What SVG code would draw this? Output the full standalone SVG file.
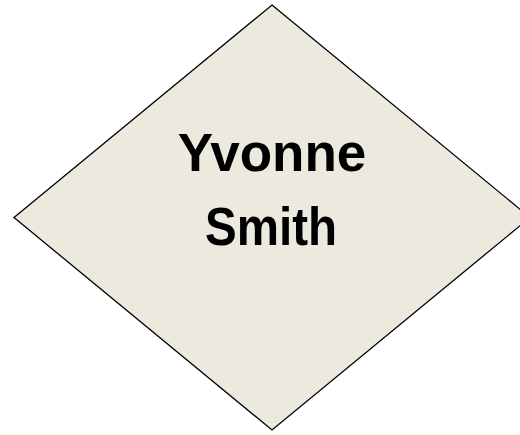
<svg xmlns="http://www.w3.org/2000/svg" width="520" height="435" viewBox="0 0 520 435">
  <style>
    .shape { fill: #ECE9DF; stroke: #000000; stroke-width: 1.3; }
    .label { font-family: "Liberation Sans", Arial, sans-serif; font-weight: bold; font-size: 53px; fill: #000000; text-anchor: middle; }
  </style>
  <rect width="520" height="435" fill="#FFFFFF"/>
  <g id="connectors"/>
  <g id="node-yvonne-smith">
    <polygon class="shape" points="272,5 530,217.5 272,430 14,217.5"/>
    <text class="label" x="272" y="170.5">Yvonne</text>
    <text class="label" x="271" y="245" textLength="132" lengthAdjust="spacingAndGlyphs">Smith</text>
  </g>
</svg>
